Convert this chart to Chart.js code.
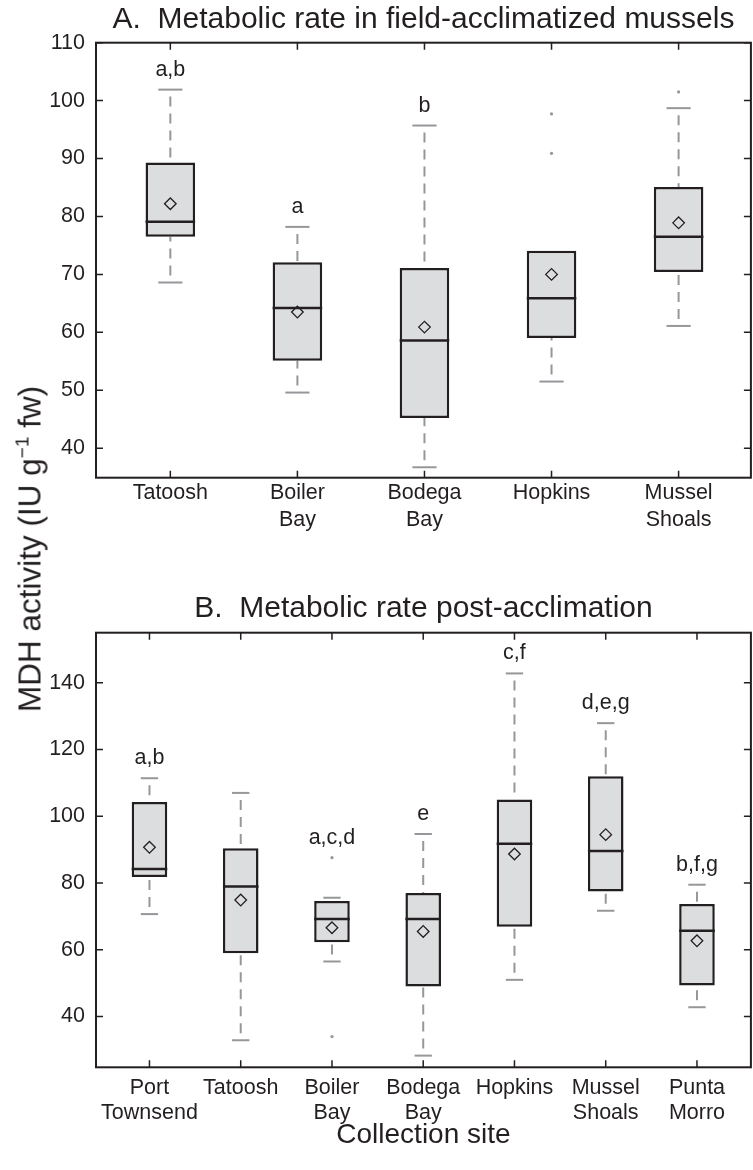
<!DOCTYPE html>
<html>
<head>
<meta charset="utf-8">
<script src="https://cdn.jsdelivr.net/npm/chart.js@4.4.1/dist/chart.umd.min.js"></script>
<style>
  html, body { margin: 0; padding: 0; background: #fff; }
  body { width: 753px; height: 1170px; overflow: hidden; position: relative; font-family: "Liberation Sans", Arial, sans-serif; color: #231f20; }
  canvas { position: absolute; left: 0; }
  #chartA { top: 0; }
  #chartB { top: 590px; }
  #ytitle { position: absolute; left: 30px; top: 549px; transform: translate(-50%, -50%) rotate(-90deg); white-space: nowrap; font-size: 31.5px; }
  #ytitle sup { font-size: 19px; vertical-align: 12px; line-height: 0; }
</style>
</head>
<body>
<canvas id="chartA" width="758" height="590"></canvas>
<canvas id="chartB" width="758" height="580"></canvas>
<div id="ytitle">MDH activity (IU g<sup>−1</sup> fw)</div>
<script>
// A. field-acclimatized mussels
const sitesA = [['Tatoosh'], ['Boiler', 'Bay'], ['Bodega', 'Bay'], ['Hopkins'], ['Mussel', 'Shoals']]
const lowA = [68.6, 49.6, 36.7, 51.5, 61.1]
const q1A = [76.5, 55.1, 45.2, 59.0, 70.4]
const medianA = [79.1, 64.2, 58.6, 65.9, 76.5]
const q3A = [89.3, 72.1, 71.1, 74.1, 85.1]
const highA = [101.9, 78.2, 95.7, 74.1, 98.7]
const meanA = [82.2, 63.5, 60.9, 70.0, 78.9]
const outlierSiteA = [4, 4, 5]
const outlierValA = [97.7, 90.9, 101.5]
const lettersA = ['a,b', 'a', 'b', '', '']
const ticksA = [40, 50, 60, 70, 80, 90, 100, 110]

// B. post-acclimation
const sitesB = [['Port', 'Townsend'], ['Tatoosh'], ['Boiler', 'Bay'], ['Bodega', 'Bay'], ['Hopkins'], ['Mussel', 'Shoals'], ['Punta', 'Morro']]
const lowB = [70.7, 32.9, 56.5, 28.3, 51.0, 71.7, 42.8]
const q1B = [81.8, 59.0, 62.3, 49.0, 66.9, 77.5, 49.3]
const medianB = [84.2, 79.0, 69.2, 69.2, 91.8, 89.6, 65.7]
const q3B = [104.3, 90.4, 74.6, 77.0, 105.0, 112.0, 73.7]
const highB = [111.4, 107.0, 75.6, 94.7, 142.8, 127.9, 79.5]
const meanB = [90.7, 74.9, 66.6, 65.5, 88.7, 94.5, 62.7]
const outlierSiteB = [3, 3]
const outlierValB = [87.6, 34.0]
const lettersB = ['a,b', '', 'a,c,d', 'e', 'c,f', 'd,e,g', 'b,f,g']
const ticksB = [40, 60, 80, 100, 120, 140]

const INK = '#231f20'
const BOX_FILL = '#dcdddf'
const WHISKER = '#96979a'
const FONT = '"Liberation Sans", Arial, Helvetica, sans-serif'

// whiskers, medians, letters and the boxed frame with inward ticks
function boxPlotExtras(s) {
  return {
    id: 'boxPlotExtras',
    beforeDatasetsDraw(chart) {
      const { ctx, scales: { x, y } } = chart
      const capHalf = (x.getPixelForValue(1.19) - x.getPixelForValue(1)) / 2
      ctx.save()
      ctx.strokeStyle = WHISKER
      ctx.lineWidth = 2
      s.low.forEach((lo, i) => {
        const px = x.getPixelForValue(i + 1)
        const stems = [[s.high[i], s.q3[i]], [lo, s.q1[i]]]
        stems.forEach(([end, edge]) => {
          if (end === edge) return
          ctx.setLineDash([10, 7])
          ctx.lineDashOffset = 10
          ctx.beginPath()
          ctx.moveTo(px, y.getPixelForValue(end))
          ctx.lineTo(px, y.getPixelForValue(edge))
          ctx.stroke()
          ctx.setLineDash([])
          ctx.beginPath()
          ctx.moveTo(px - capHalf, y.getPixelForValue(end))
          ctx.lineTo(px + capHalf, y.getPixelForValue(end))
          ctx.stroke()
        })
      })
      ctx.restore()
    },
    afterDatasetDraw(chart, args) {
      if (args.meta.type !== 'bar') return
      const { ctx, scales: { y } } = chart
      ctx.save()
      ctx.strokeStyle = INK
      ctx.lineWidth = 2.5
      args.meta.data.forEach((bar, i) => {
        const py = y.getPixelForValue(s.median[i])
        ctx.beginPath()
        ctx.moveTo(bar.x - bar.width / 2, py)
        ctx.lineTo(bar.x + bar.width / 2, py)
        ctx.stroke()
      })
      ctx.restore()
    },
    afterDatasetsDraw(chart) {
      const { ctx, chartArea: { left, right, top, bottom }, scales: { x, y } } = chart
      ctx.save()
      // significance letters
      ctx.fillStyle = INK
      ctx.font = '21.5px ' + FONT
      ctx.textAlign = 'center'
      ctx.textBaseline = 'alphabetic'
      s.letters.forEach((txt, i) => {
        if (!txt) return
        let topVal = s.high[i]
        s.outlierSite.forEach((site, j) => {
          if (site === i + 1) topVal = Math.max(topVal, s.outlierVal[j])
        })
        ctx.fillText(txt, x.getPixelForValue(i + 1), y.getPixelForValue(topVal) - 14)
      })
      // frame
      ctx.strokeStyle = INK
      ctx.lineWidth = 2
      ctx.strokeRect(left, top, right - left, bottom - top)
      ctx.lineWidth = 1.5
      ctx.beginPath()
      y.ticks.forEach(t => {
        const py = y.getPixelForValue(t.value)
        ctx.moveTo(left, py); ctx.lineTo(left + 7, py)
        ctx.moveTo(right - 7, py); ctx.lineTo(right, py)
      })
      x.ticks.forEach(t => {
        const px = x.getPixelForValue(t.value)
        ctx.moveTo(px, bottom); ctx.lineTo(px, bottom - 7)
        ctx.moveTo(px, top); ctx.lineTo(px, top + 7)
      })
      ctx.stroke()
      ctx.restore()
    }
  }
}

function makeChart(id, p) {
  return new Chart(document.getElementById(id), {
    type: 'bar',
    data: {
      datasets: [
        {
          type: 'scatter',
          label: 'Mean',
          data: p.mean.map((v, i) => ({ x: i + 1, y: v })),
          pointStyle: 'rectRot',
          pointRadius: 5.8,
          backgroundColor: 'rgba(0,0,0,0)',
          borderColor: INK,
          borderWidth: 1.3,
          order: 1
        },
        {
          type: 'scatter',
          label: 'Outliers',
          data: p.outlierSite.map((site, i) => ({ x: site, y: p.outlierVal[i] })),
          pointRadius: 1.6,
          backgroundColor: WHISKER,
          borderWidth: 0,
          order: 2
        },
        {
          type: 'bar',
          label: 'Interquartile range',
          data: p.q1.map((v, i) => ({ x: i + 1, y: [v, p.q3[i]] })),
          backgroundColor: BOX_FILL,
          borderColor: INK,
          borderWidth: 2.5,
          borderSkipped: false,
          barPercentage: 0.39,
          categoryPercentage: 1,
          order: 3
        }
      ]
    },
    options: {
      responsive: false,
      animation: false,
      events: [],
      layout: { padding: { left: 0, right: 1, top: 0, bottom: 0 } },
      plugins: {
        legend: { display: false },
        tooltip: { enabled: false },
        title: {
          display: true,
          text: p.title,
          fullSize: false,
          color: INK,
          font: { family: FONT, size: 30, weight: 'normal', lineHeight: 1.2 },
          padding: p.titlePadding
        }
      },
      scales: {
        x: {
          type: 'linear',
          min: p.xMin,
          max: p.xMax,
          offset: false,
          grid: { display: false, drawTicks: false },
          border: { display: false },
          afterBuildTicks: sc => { sc.ticks = p.sites.map((_, i) => ({ value: i + 1 })) },
          afterFit: sc => { sc.height = p.xHeight },
          ticks: {
            callback: v => p.sites[v - 1],
            color: INK,
            font: { family: FONT, size: 21.5, lineHeight: p.labelLineHeight },
            padding: p.labelPadding,
            maxRotation: 0,
            autoSkip: false
          },
          title: p.xTitle
            ? { display: true, text: p.xTitle, color: INK, font: { family: FONT, size: 28, lineHeight: 1.2 }, padding: { top: 0, bottom: 18 } }
            : { display: false }
        },
        y: {
          min: p.yMin,
          max: p.yMax,
          grid: { display: false, drawTicks: false },
          border: { display: false },
          afterBuildTicks: sc => { sc.ticks = p.yTicks.map(v => ({ value: v })) },
          afterFit: sc => { sc.width = 96 },
          ticks: { color: INK, font: { family: FONT, size: 21.5 }, padding: 11 }
        }
      }
    },
    plugins: [boxPlotExtras(p)]
  })
}

makeChart('chartA', {
  title: 'A.  Metabolic rate in field-acclimatized mussels',
  titlePadding: { top: 2, bottom: 4.7 },
  sites: sitesA, low: lowA, q1: q1A, median: medianA, q3: q3A, high: highA, mean: meanA,
  outlierSite: outlierSiteA, outlierVal: outlierValA, letters: lettersA, yTicks: ticksA,
  xMin: 0.415, xMax: 5.569, yMin: 34.9, yMax: 110,
  xHeight: 112.3, labelPadding: 2.4, labelLineHeight: 1.24
})

makeChart('chartB', {
  title: 'B.  Metabolic rate post-acclimation',
  titlePadding: { top: 0.7, bottom: 6 },
  sites: sitesB, low: lowB, q1: q1B, median: medianB, q3: q3B, high: highB, mean: meanB,
  outlierSite: outlierSiteB, outlierVal: outlierValB, letters: lettersB, yTicks: ticksB,
  xMin: 0.414, xMax: 7.591, yMin: 24.8, yMax: 155,
  xHeight: 102.7, labelPadding: 8.4, labelLineHeight: 1.16,
  xTitle: 'Collection site'
})
</script>
</body>
</html>
